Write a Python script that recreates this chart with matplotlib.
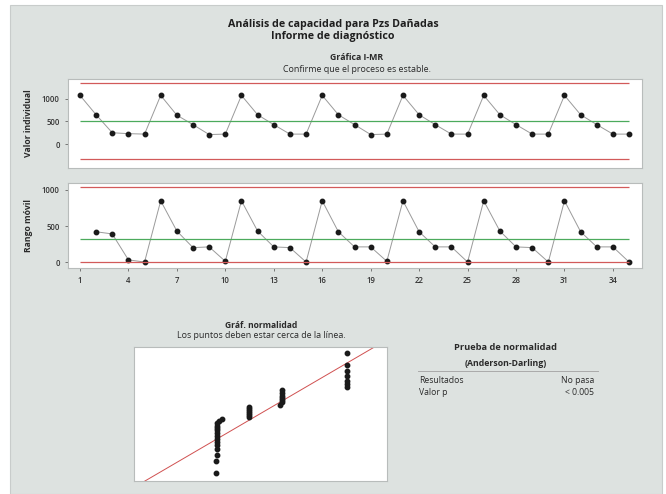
import numpy as np
import matplotlib
matplotlib.use('Agg')
import matplotlib.pyplot as plt
from matplotlib.patches import Rectangle
from statistics import NormalDist

plt.rcParams['font.family'] = ['Open Sans', 'DejaVu Sans']

# datos
muestra = np.arange(1, 36)
valor_individual = [1080, 650, 250, 230, 220, 1080, 640, 430, 210, 220,
                    1080, 650, 430, 220, 220, 1080, 650, 430, 210, 220,
                    1080, 650, 430, 220, 220, 1080, 650, 430, 220, 220,
                    1080, 650, 430, 220, 220]
rango_movil = [420, 390, 30, 0, 850, 430, 200, 210, 10, 850,
               430, 210, 200, 0, 850, 420, 210, 210, 10, 850,
               420, 210, 210, 0, 850, 430, 210, 200, 0, 850,
               420, 210, 210, 0]
lim_i = [1361, 510, -341]      # LSC, media, LIC
lim_mr = [1045, 320, 0]
x_ticks = [1, 4, 7, 10, 13, 16, 19, 22, 25, 28, 31, 34]

rojo = '#d25a5a'
verde = '#4caa5c'
gris_fondo = '#dde2e0'
borde = '#b8bcbb'
texto = '#2a2a2a'

fig = plt.figure(figsize=(6.66, 4.94), dpi=100)
fig.patches.append(Rectangle((10/666, 0), 652/666, 489/494, transform=fig.transFigure,
                             facecolor=gris_fondo, edgecolor='#c8cccb', lw=0.8, zorder=-10))

fig.text(0.5, 1-24/494, 'Análisis de capacidad para Pzs Dañadas', ha='center', va='center',
         fontsize=7.7, fontweight='bold', color='#1e1e1e')
fig.text(0.5, 1-36/494, 'Informe de diagnóstico', ha='center', va='center',
         fontsize=7.7, fontweight='bold', color='#1e1e1e')
fig.text(357/666, 1-58/494, 'Gráfica I-MR', ha='center', va='center',
         fontsize=6.3, fontweight='bold', color=texto)
fig.text(357/666, 1-69/494, 'Confirme que el proceso es estable.', ha='center', va='center',
         fontsize=6.4, color=texto)


def estilo(ax):
    ax.set_facecolor('white')
    for s in ax.spines.values():
        s.set_color(borde)
        s.set_linewidth(0.8)
    ax.tick_params(axis='both', labelsize=5.6, colors='#666666', length=2.5, width=0.6,
                   labelcolor='#333333')
    for t in ax.get_xticklabels() + ax.get_yticklabels():
        t.set_fontweight('semibold')
    ax.set_xlim(0.26, 35.8)


# grafica I
ax1 = fig.add_axes([68/666, 1-168/494, 574/666, 89/494])
ax1.plot(muestra, valor_individual, color='#9a9a9a', lw=0.7, marker='o', markersize=3.2,
         markerfacecolor='#1a1a1a', markeredgecolor='#1a1a1a')
ax1.hlines(lim_i[0], 1, 35, color=rojo, lw=0.9)
ax1.hlines(lim_i[1], 1, 35, color=verde, lw=0.9)
ax1.hlines(lim_i[2], 1, 35, color=rojo, lw=0.9)
ax1.set_ylim(-533, 1444)
ax1.set_yticks([0, 500, 1000])
ax1.set_xticks([])
estilo(ax1)
ax1.set_ylabel('Valor individual', fontsize=6.2, fontweight='bold', color=texto, labelpad=6)

# grafica MR
ax2 = fig.add_axes([68/666, 1-268/494, 574/666, 85/494])
ax2.plot(muestra[1:], rango_movil, color='#9a9a9a', lw=0.7, marker='o', markersize=3.2,
         markerfacecolor='#1a1a1a', markeredgecolor='#1a1a1a')
ax2.hlines(lim_mr[0], 1, 35, color=rojo, lw=0.9)
ax2.hlines(lim_mr[1], 1, 35, color=verde, lw=0.9)
ax2.hlines(lim_mr[2], 1, 35, color=rojo, lw=0.9)
ax2.set_ylim(-83, 1097)
ax2.set_yticks([0, 500, 1000])
ax2.set_xticks(x_ticks)
estilo(ax2)
ax2.set_ylabel('Rango móvil', fontsize=6.2, fontweight='bold', color=texto, labelpad=6)

# grafica de normalidad
datos = np.sort(np.array(valor_individual, dtype=float))
n = len(datos)
nd = NormalDist()
z = np.array([nd.inv_cdf((i - 0.3) / (n + 0.4)) for i in range(1, n + 1)])
media = datos.mean()
desv = datos.std(ddof=1)

ax3 = fig.add_axes([134/666, 1-481/494, 253/666, 134/494])
ax3.set_facecolor('white')
for s in ax3.spines.values():
    s.set_color(borde)
    s.set_linewidth(0.8)
ax3.set_xlim(-330, 1346)
ax3.set_ylim(-2.34, 2.27)
xl = np.array([-330, 1346])
ax3.plot(xl, (xl - media) / desv, color='#d05050', lw=0.7)
ax3.plot(datos, z, 'o', color='#1a1a1a', markersize=3.2)
ax3.set_xticks([])
ax3.set_yticks([])

fig.text(261/666, 1-325/494, 'Gráf. normalidad', ha='center', va='center',
         fontsize=6.1, fontweight='bold', color=texto)
fig.text(261/666, 1-336/494, 'Los puntos deben estar cerca de la línea.', ha='center', va='center',
         fontsize=6.4, color=texto)

# prueba de normalidad
fig.text(506/666, 1-347/494, 'Prueba de normalidad', ha='center', va='center',
         fontsize=6.7, fontweight='bold', color=texto)
fig.text(506/666, 1-363/494, '(Anderson-Darling)', ha='center', va='center',
         fontsize=6.3, fontweight='bold', color=texto)
fig.add_artist(plt.Line2D([418/666, 598/666], [1-371/494, 1-371/494], color='#aaaaaa', lw=0.7))
fig.text(419/666, 1-380/494, 'Resultados', ha='left', va='center', fontsize=6.2, color=texto)
fig.text(594/666, 1-380/494, 'No pasa', ha='right', va='center', fontsize=6.2, color=texto)
fig.text(419/666, 1-392/494, 'Valor p', ha='left', va='center', fontsize=6.2, color=texto)
fig.text(594/666, 1-392/494, '< 0.005', ha='right', va='center', fontsize=6.2, color=texto)

fig.savefig('out.png', dpi=100, facecolor='white')
